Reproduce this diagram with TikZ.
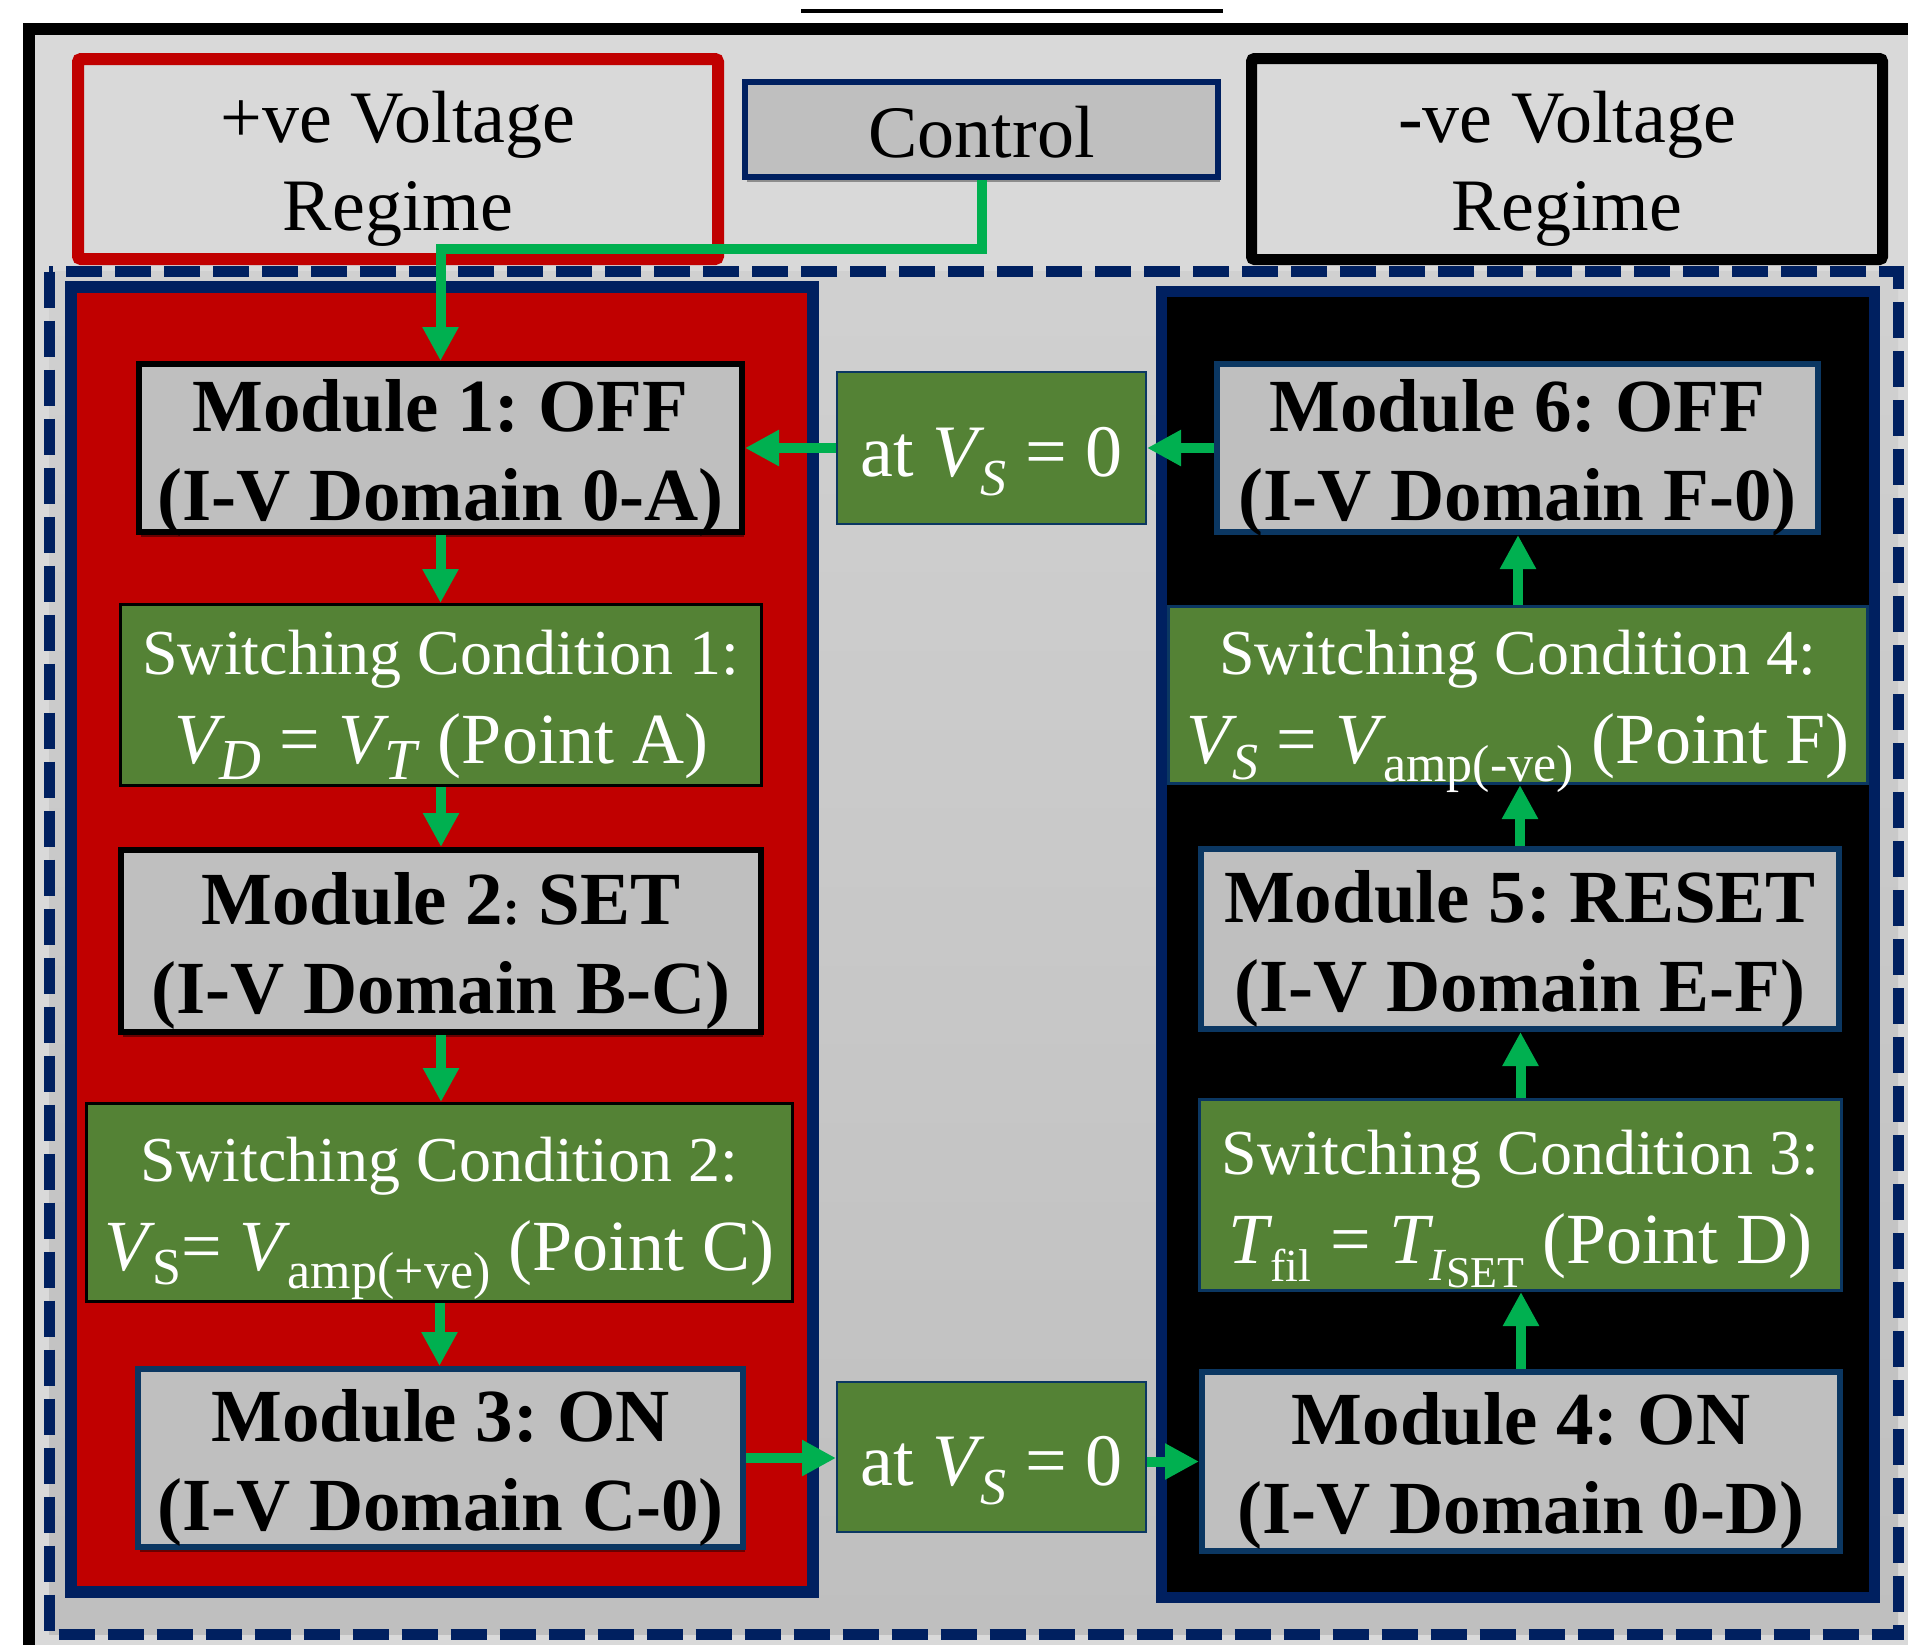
\documentclass[tikz,border=0pt]{standalone}
\usepackage{fontspec}
\setmainfont{Liberation Serif}
\usetikzlibrary{arrows.meta,shadows,calc}
\definecolor{navy}{HTML}{002060}
\definecolor{boxnavy}{HTML}{0B3762}
\definecolor{darkred}{HTML}{C00000}
\definecolor{grn}{HTML}{548235}
\definecolor{arr}{HTML}{00B050}
\definecolor{lgray}{HTML}{D9D9D9}
\definecolor{mgray}{HTML}{BFBFBF}
\newcommand{\dn}[3]{\raisebox{-#1pt}{\fontsize{#2}{#2}\selectfont #3}}
\newcommand{\sth}[1]{\rule{0pt}{#1pt}}
\newcommand{\std}[1]{\rule[-#1pt]{0pt}{#1pt}}
\frenchspacing
\begin{document}
\begin{tikzpicture}[x=1pt,y=-1pt,
  regime/.style={line width=12pt, fill=lgray, rounded corners=3pt, inner xsep=0pt, inner ysep=-30pt,
    align=center, font=\fontsize{74}{88}\selectfont},
  modbox/.style={draw, line width=6pt, fill=mgray, inner xsep=0pt, inner ysep=-30pt, align=center,
    font=\fontsize{75}{89}\selectfont\bfseries,
    drop shadow={shadow xshift=2pt, shadow yshift=-5pt, opacity=0.45, fill=black}},
  condbox/.style={draw, line width=3pt, fill=grn, text=white, inner xsep=0pt, inner ysep=-30pt, align=center,
    font=\fontsize{72}{89}\selectfont},
  atbox/.style={draw=boxnavy, line width=2pt, fill=grn, text=white, inner xsep=0pt, inner ysep=-30pt,
    font=\fontsize{74}{88}\selectfont},
  conn/.style={draw=arr, line width=10pt, -{Triangle[width=34pt,length=34pt]}}
]
\useasboundingbox (0,0) rectangle (1908,1644);
\clip (0,0) rectangle (1908,1644);
\fill[white] (0,0) rectangle (1908,1644);
% outer frame
\draw[line width=12pt, fill=lgray] (29,29) rectangle (1960,1700);
\draw[line width=4pt] (801,10.5) -- (1223,10.5);
% dashed region
\path[top color=lgray!96!black, bottom color=mgray] (49,271.5) rectangle (1898,1634);
\draw[navy, line width=11pt, dash pattern=on 36pt off 13pt] (49,271.5) rectangle (1898,1634);
% panels
\draw[navy, line width=12pt, fill=darkred] (71,287) rectangle (813,1592);
\draw[navy, line width=11pt, fill=black] (1161.5,291.5) rectangle (1874.5,1597.5);
% regime boxes
\node[regime, draw=darkred, minimum width=640pt, minimum height=200pt] (pos) at (398,159)
  {\sth{79}+ve Voltage\\Regime\std{25}};
\node[regime, draw=black, line width=11pt, minimum width=631pt, minimum height=201pt] (neg) at (1567,159)
  {\sth{79}-ve Voltage\\Regime\std{25}};
% control
\node[draw=navy, line width=6pt, fill=mgray, inner xsep=0pt, inner ysep=-30pt, minimum width=473pt, minimum height=95pt,
  font=\fontsize{74}{88}\selectfont,
  drop shadow={shadow xshift=2pt, shadow yshift=-5pt, opacity=0.35, fill=black}] (ctrl) at (981.5,129.5)
  {\sth{80}Control\std{25}};
% left column
\node[modbox, draw=black, minimum width=603pt, minimum height=168pt] (m1) at (440.5,448)
  {\sth{80}Module 1: OFF\\(I-V Domain 0-A)\std{25}};
\node[condbox, draw=black, minimum width=641pt, minimum height=181pt] (sc1) at (441,695)
  {\sth{82}{\fontsize{64}{89}\selectfont Switching Condition 1:}\\
   \textit{V}\kern-5pt\dn{16}{58}{\textit{D}} = \textit{V}\kern-5pt\dn{16}{58}{\textit{T}} (Point A)\std{35}};
\node[modbox, draw=black, minimum width=640pt, minimum height=182pt] (m2) at (441,941)
  {\sth{80}Module 2{\fontsize{50}{50}\selectfont:} SET\\(I-V Domain B-C)\std{25}};
\node[condbox, draw=black, minimum width=706pt, minimum height=198pt] (sc2) at (439.5,1202.5)
  {\sth{82}{\fontsize{64}{89}\selectfont Switching Condition 2:}\\
   \textit{V}\kern-3pt\dn{14}{52}{S}= \textit{V}\kern-3pt\dn{18}{52}{amp(+ve)} (Point C)\std{35}};
\node[modbox, draw=boxnavy, minimum width=605pt, minimum height=178pt] (m3) at (440.5,1458)
  {\sth{80}Module 3: ON\\(I-V Domain C-0)\std{25}};
% middle
\node[atbox, minimum width=309pt, minimum height=152pt] (at1) at (991.5,448)
  {\sth{90}at \textit{V}\kern-4pt\dn{19}{52}{\textit{S}} = 0\std{34}};
\node[atbox, minimum width=309pt, minimum height=150pt] (at2) at (991.5,1457)
  {\sth{90}at \textit{V}\kern-4pt\dn{19}{52}{\textit{S}} = 0\std{34}};
% right column
\node[modbox, draw=boxnavy, minimum width=638pt, minimum height=179pt] (m4) at (1521,1461.5)
  {\sth{80}Module 4: ON\\(I-V Domain 0-D)\std{25}};
\node[condbox, draw=boxnavy, minimum width=642pt, minimum height=191pt] (sc3) at (1520.5,1195)
  {\sth{82}{\fontsize{64}{89}\selectfont Switching Condition 3:}\\
   \textit{T}\kern-3pt\dn{18}{46}{fil}\kern2pt{} = \textit{T}\kern-4pt\dn{17}{46}{\textit{I}\kern-1pt\dn{7}{44}{SET}} (Point D)\std{35}};
\node[modbox, draw=boxnavy, minimum width=638pt, minimum height=180pt] (m5) at (1520,939)
  {\sth{80}Module 5: RESET\\(I-V Domain E-F)\std{25}};
\node[condbox, draw=boxnavy, minimum width=699pt, minimum height=177pt] (sc4) at (1518,695)
  {\sth{82}{\fontsize{64}{89}\selectfont Switching Condition 4:}\\
   \textit{V}\kern-4pt\dn{16}{52}{\textit{S}} = \textit{V}\kern-3pt\dn{18}{52}{amp(-ve)} (Point F)\std{35}};
\node[modbox, draw=boxnavy, minimum width=601pt, minimum height=168pt] (m6) at (1517.5,448)
  {\sth{80}Module 6: OFF\\(I-V Domain F-0)\std{25}};
% connectors
\draw[conn] (ctrl.south) -- ++(0,69) -| (m1.north);
\draw[conn] (m1.south) -- (m1.south |- sc1.north);
\draw[conn] (sc1.south) -- (sc1.south |- m2.north);
\draw[conn] (m2.south) -- (m2.south |- sc2.north);
\draw[conn] (sc2.south) -- (sc2.south |- m3.north);
\draw[conn] (m3.east) -- (m3.east -| at2.west);
\draw[conn] (at2.east |- m4.west) -- (m4.west);
\draw[conn] (m4.north) -- (m4.north |- sc3.south);
\draw[conn] (sc3.north) -- (sc3.north |- m5.south);
\draw[conn] (m5.north) -- (m5.north |- sc4.south);
\draw[conn] (sc4.north) -- (sc4.north |- m6.south);
\draw[conn] (m6.west) -- (at1.east);
\draw[conn] (at1.west) -- (m1.east);
\end{tikzpicture}
\end{document}
